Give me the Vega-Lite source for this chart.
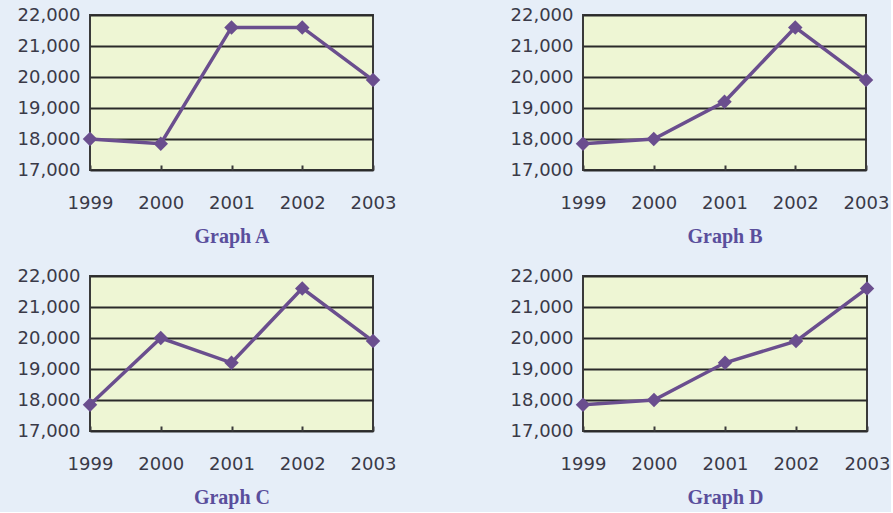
{
  "$schema": "https://vega.github.io/schema/vega-lite/v6.json",
  "background": "#e6eef8",
  "padding": {"left": 16, "top": 5, "right": 0, "bottom": 4},
  "datasets": {
    "a": [
      {"year": 1999, "value": 18000},
      {"year": 2000, "value": 17850},
      {"year": 2001, "value": 21600},
      {"year": 2002, "value": 21600},
      {"year": 2003, "value": 19900}
    ],
    "b": [
      {"year": 1999, "value": 17850},
      {"year": 2000, "value": 18000},
      {"year": 2001, "value": 19200},
      {"year": 2002, "value": 21600},
      {"year": 2003, "value": 19900}
    ],
    "c": [
      {"year": 1999, "value": 17850},
      {"year": 2000, "value": 20000},
      {"year": 2001, "value": 19200},
      {"year": 2002, "value": 21600},
      {"year": 2003, "value": 19900}
    ],
    "d": [
      {"year": 1999, "value": 17850},
      {"year": 2000, "value": 18000},
      {"year": 2001, "value": 19200},
      {"year": 2002, "value": 19900},
      {"year": 2003, "value": 21600}
    ]
  },
  "config": {
    "view": {"fill": "#eef6d4", "stroke": "#3a3a3a", "strokeWidth": 2},
    "axis": {
      "labelFont": "DejaVu Sans",
      "labelFontSize": 18,
      "labelColor": "#3a3a48",
      "labelFlush": false,
      "labelOverlap": false,
      "domain": false,
      "titleFont": "Liberation Serif",
      "titleFontSize": 20,
      "titleFontWeight": "bold",
      "titleColor": "#5a4e9c"
    }
  },
  "columns": 2,
  "spacing": {"row": 19, "column": 112},
  "concat": [
    {
      "width": 283, "height": 155,
      "data": {"name": "a"},
      "layer": [
        {"mark": {"type": "line", "color": "#6a4e8e", "strokeWidth": 3.5}, "encoding": {}},
        {"mark": {"type": "point", "shape": "diamond", "filled": true, "size": 210, "color": "#6a4e8e", "opacity": 1}, "encoding": {}}
      ],
      "encoding": {
        "x": {"field": "year", "type": "quantitative", "scale": {"domain": [1999, 2003], "nice": false, "zero": false},
          "axis": {"values": [1999, 2000, 2001, 2002, 2003], "format": "d", "grid": false, "ticks": true, "tickSize": -5, "tickWidth": 2, "tickColor": "#3a3a3a", "labelPadding": 29, "title": "Graph A", "titlePadding": 14}},
        "y": {"field": "value", "type": "quantitative", "scale": {"domain": [17000, 22000], "nice": false, "zero": false},
          "axis": {"values": [17000, 18000, 19000, 20000, 21000, 22000], "format": ",d", "grid": true, "gridColor": "#2a2a2a", "gridWidth": 2, "gridOpacity": 1, "ticks": false, "labelPadding": 10, "title": null}}
      }
    },
    {
      "width": 283, "height": 155,
      "data": {"name": "b"},
      "layer": [
        {"mark": {"type": "line", "color": "#6a4e8e", "strokeWidth": 3.5}, "encoding": {}},
        {"mark": {"type": "point", "shape": "diamond", "filled": true, "size": 210, "color": "#6a4e8e", "opacity": 1}, "encoding": {}}
      ],
      "encoding": {
        "x": {"field": "year", "type": "quantitative", "scale": {"domain": [1999, 2003], "nice": false, "zero": false},
          "axis": {"values": [1999, 2000, 2001, 2002, 2003], "format": "d", "grid": false, "ticks": true, "tickSize": -5, "tickWidth": 2, "tickColor": "#3a3a3a", "labelPadding": 29, "title": "Graph B", "titlePadding": 14}},
        "y": {"field": "value", "type": "quantitative", "scale": {"domain": [17000, 22000], "nice": false, "zero": false},
          "axis": {"values": [17000, 18000, 19000, 20000, 21000, 22000], "format": ",d", "grid": true, "gridColor": "#2a2a2a", "gridWidth": 2, "gridOpacity": 1, "ticks": false, "labelPadding": 10, "title": null}}
      }
    },
    {
      "width": 283, "height": 155,
      "data": {"name": "c"},
      "layer": [
        {"mark": {"type": "line", "color": "#6a4e8e", "strokeWidth": 3.5}, "encoding": {}},
        {"mark": {"type": "point", "shape": "diamond", "filled": true, "size": 210, "color": "#6a4e8e", "opacity": 1}, "encoding": {}}
      ],
      "encoding": {
        "x": {"field": "year", "type": "quantitative", "scale": {"domain": [1999, 2003], "nice": false, "zero": false},
          "axis": {"values": [1999, 2000, 2001, 2002, 2003], "format": "d", "grid": false, "ticks": true, "tickSize": -5, "tickWidth": 2, "tickColor": "#3a3a3a", "labelPadding": 29, "title": "Graph C", "titlePadding": 14}},
        "y": {"field": "value", "type": "quantitative", "scale": {"domain": [17000, 22000], "nice": false, "zero": false},
          "axis": {"values": [17000, 18000, 19000, 20000, 21000, 22000], "format": ",d", "grid": true, "gridColor": "#2a2a2a", "gridWidth": 2, "gridOpacity": 1, "ticks": false, "labelPadding": 10, "title": null}}
      }
    },
    {
      "width": 284, "height": 155,
      "data": {"name": "d"},
      "layer": [
        {"mark": {"type": "line", "color": "#6a4e8e", "strokeWidth": 3.5}, "encoding": {}},
        {"mark": {"type": "point", "shape": "diamond", "filled": true, "size": 210, "color": "#6a4e8e", "opacity": 1}, "encoding": {}}
      ],
      "encoding": {
        "x": {"field": "year", "type": "quantitative", "scale": {"domain": [1999, 2003], "nice": false, "zero": false},
          "axis": {"values": [1999, 2000, 2001, 2002, 2003], "format": "d", "grid": false, "ticks": true, "tickSize": -5, "tickWidth": 2, "tickColor": "#3a3a3a", "labelPadding": 29, "title": "Graph D", "titlePadding": 14}},
        "y": {"field": "value", "type": "quantitative", "scale": {"domain": [17000, 22000], "nice": false, "zero": false},
          "axis": {"values": [17000, 18000, 19000, 20000, 21000, 22000], "format": ",d", "grid": true, "gridColor": "#2a2a2a", "gridWidth": 2, "gridOpacity": 1, "ticks": false, "labelPadding": 10, "title": null}}
      }
    }
  ]
}
